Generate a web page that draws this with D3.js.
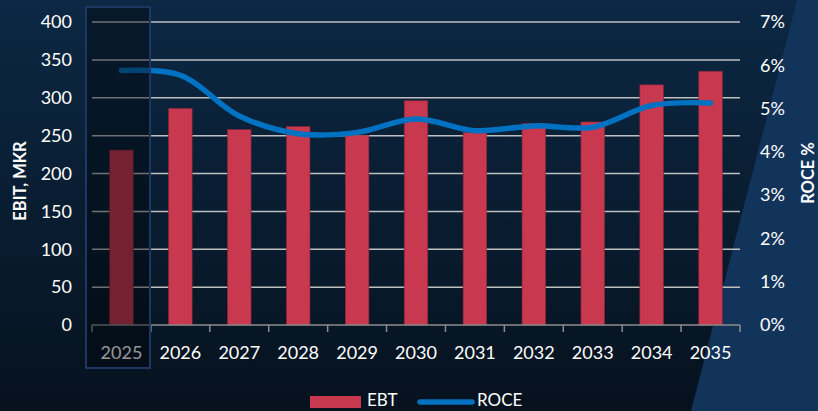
<!DOCTYPE html>
<html><head><meta charset="utf-8">
<script src="https://cdn.jsdelivr.net/npm/d3@7"></script>
<style>html,body{margin:0;padding:0;background:#07131f;overflow:hidden}</style>
</head><body>
<svg id="c" width="818" height="411"></svg>
<script>
const years = ["2025","2026","2027","2028","2029","2030","2031","2032","2033","2034","2035"];
const ebt = [231, 286, 258, 262, 250, 296, 254, 266, 268, 317, 335];
const roce = [5.88, 5.77, 4.83, 4.42, 4.45, 4.76, 4.49, 4.6, 4.57, 5.07, 5.13];
const leftTicks = [0,50,100,150,200,250,300,350,400];
const rightTicks = [0,1,2,3,4,5,6,7];
const highlightYear = "2025";

const W = 818, H = 411;
const svg = d3.select("#c");
const font = "Lato, 'Open Sans', sans-serif";

const defs = svg.append("defs");
const g = defs.append("linearGradient").attr("id","bg").attr("x1",0).attr("y1",0).attr("x2",0).attr("y2",1);
g.append("stop").attr("offset","0%").attr("stop-color","#0c2844");
g.append("stop").attr("offset","100%").attr("stop-color","#06121e");
svg.append("rect").attr("width",W).attr("height",H).attr("fill","url(#bg)");
svg.append("polygon").attr("points","797,0 818,0 818,411 691,411").attr("fill","#12335a");

const x = d3.scaleBand().domain(years).range([92,740]).paddingInner(0.6).paddingOuter(0.3);
const y = d3.scaleLinear().domain([0,400]).range([325,22]);
const y2 = d3.scaleLinear().domain([0,7]).range([325,22]);

// gridlines
svg.append("g").selectAll("line").data(leftTicks.filter(d=>d>0)).join("line")
  .attr("x1",92).attr("x2",740).attr("y1",d=>y(d)).attr("y2",d=>y(d))
  .attr("stroke","#bfbfbf").attr("stroke-width",1.5);

// bars
svg.append("g").selectAll("rect").data(years).join("rect")
  .attr("x",d=>x(d)).attr("width",x.bandwidth())
  .attr("y",(d,i)=>y(ebt[i])).attr("height",(d,i)=>y(0)-y(ebt[i]))
  .attr("fill","#c8384f").attr("stroke","#8a2637").attr("stroke-width",0.6);

// x axis
const step = x.step();
const x0 = 92;
svg.append("line").attr("x1",92).attr("x2",740).attr("y1",325).attr("y2",325)
  .attr("stroke","#8c8c8c").attr("stroke-width",1.5);
svg.append("g").selectAll("line").data(d3.range(years.length+1)).join("line")
  .attr("x1",i=>x0+i*step).attr("x2",i=>x0+i*step).attr("y1",325).attr("y2",332)
  .attr("stroke","#8c8c8c").attr("stroke-width",1.5);
svg.append("g").selectAll("text").data(years).join("text")
  .attr("x",d=>x(d)+x.bandwidth()/2).attr("y",359)
  .attr("text-anchor","middle").attr("fill","#ffffff")
  .attr("font-family",font).attr("font-size",18).text(d=>d);

// left labels
svg.append("g").selectAll("text").data(leftTicks).join("text")
  .attr("x",72).attr("y",d=>y(d)).attr("dy","0.35em").attr("text-anchor","end")
  .attr("fill","#ffffff").attr("font-family",font).attr("font-size",18).text(d=>d);
// right labels
svg.append("g").selectAll("text").data(rightTicks).join("text")
  .attr("x",760).attr("y",d=>y2(d)).attr("dy","0.35em").attr("text-anchor","start")
  .attr("fill","#ffffff").attr("font-family",font).attr("font-size",18).text(d=>d+"%");

// titles
svg.append("text").attr("transform","translate(26,181) rotate(-90)").attr("text-anchor","middle")
  .attr("fill","#ffffff").attr("font-family",font).attr("font-weight","bold").attr("font-size",16.5).text("EBIT, MKR");
svg.append("text").attr("transform","translate(814,173) rotate(-90)").attr("text-anchor","middle")
  .attr("fill","#ffffff").attr("font-family",font).attr("font-weight","bold").attr("font-size",16.5).text("ROCE %");

// line
const line = d3.line().x((d,i)=>x(years[i])+x.bandwidth()/2).y(d=>y2(d)).curve(d3.curveCatmullRom.alpha(0.5));
svg.append("path").datum(roce).attr("d",line).attr("fill","none")
  .attr("stroke","#0072c1").attr("stroke-width",5.5).attr("stroke-linecap","round").attr("stroke-linejoin","round");

// highlight box overlay
svg.append("rect").attr("x",86).attr("y",7).attr("width",64).attr("height",361)
  .attr("fill","rgba(0,4,10,0.42)").attr("stroke","#1d3763").attr("stroke-width",2);

// legend
svg.append("rect").attr("x",310).attr("y",396).attr("width",51).attr("height",12).attr("fill","#c8384f");
svg.append("text").attr("x",367).attr("y",406).attr("fill","#ffffff").attr("font-family",font).attr("font-size",17).text("EBT");
svg.append("line").attr("x1",420).attr("x2",472).attr("y1",402).attr("y2",402)
  .attr("stroke","#0072c1").attr("stroke-width",5.5).attr("stroke-linecap","round");
svg.append("text").attr("x",477).attr("y",406).attr("fill","#ffffff").attr("font-family",font).attr("font-size",17).text("ROCE");
</script>
</body></html>
